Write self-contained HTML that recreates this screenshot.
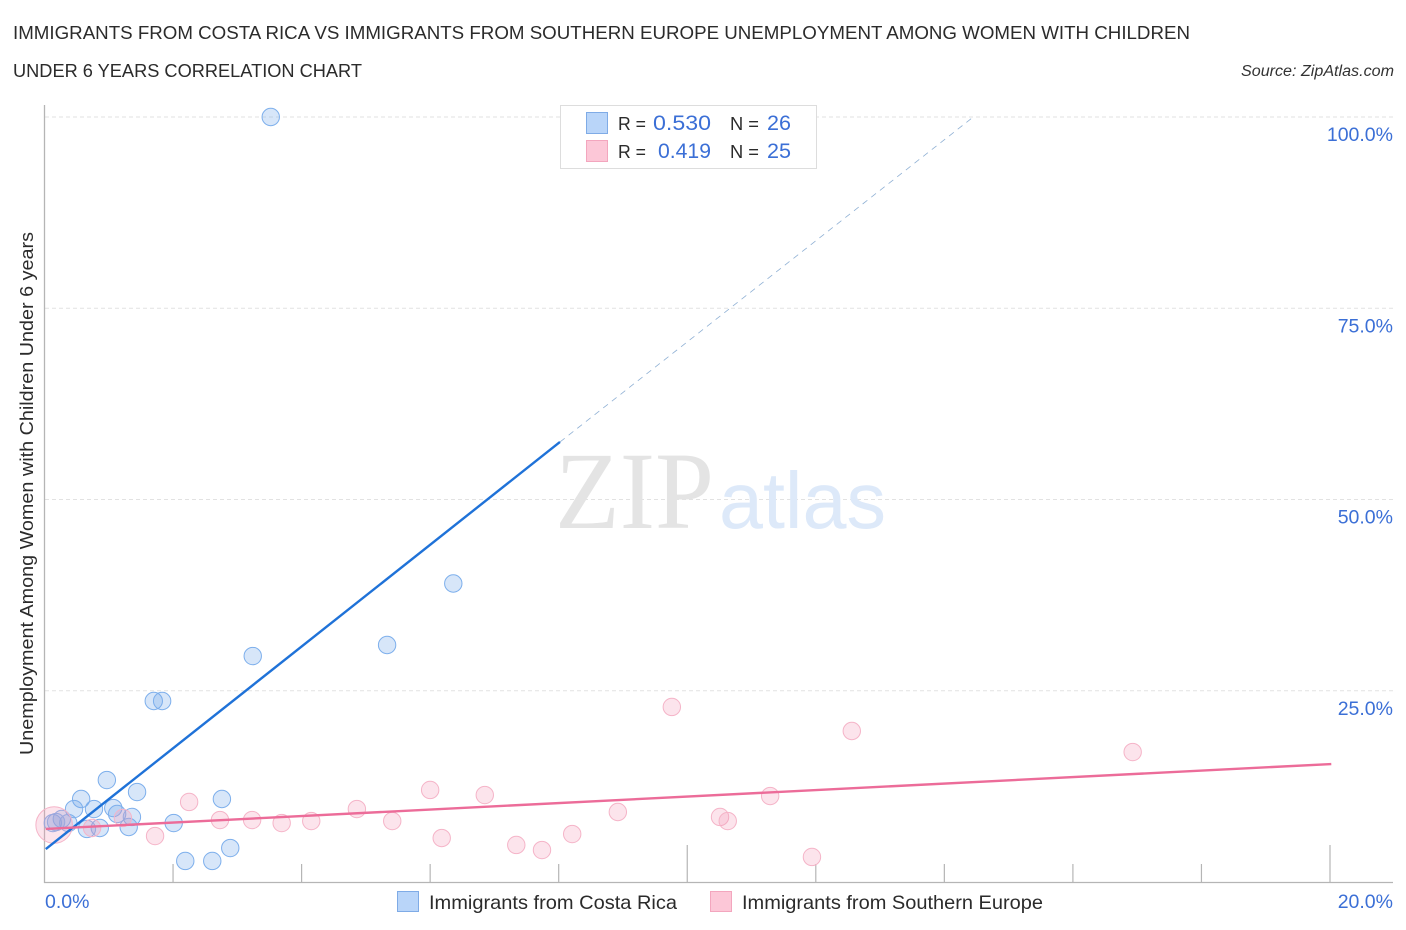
<!DOCTYPE html>
<html lang="en">
<head>
<meta charset="utf-8">
<title>Unemployment correlation chart</title>
<style>
html,body{margin:0;padding:0;background:#fff;}
body{width:1406px;height:930px;overflow:hidden;}
svg{display:block;}
text{font-family:"Liberation Sans",sans-serif;}
</style>
</head>
<body>
<svg id="chart" xmlns="http://www.w3.org/2000/svg" width="1406" height="930" viewBox="0 0 1406 930">
  <rect x="0" y="0" width="1406" height="930" fill="#ffffff"/>
  <text x="13" y="39" font-size="18.5" fill="#2b2b2b" textLength="1177" lengthAdjust="spacingAndGlyphs">IMMIGRANTS FROM COSTA RICA VS IMMIGRANTS FROM SOUTHERN EUROPE UNEMPLOYMENT AMONG WOMEN WITH CHILDREN</text>
  <text x="13" y="77" font-size="18.5" fill="#2b2b2b" textLength="349" lengthAdjust="spacingAndGlyphs">UNDER 6 YEARS CORRELATION CHART</text>
  <text x="1241" y="76" font-size="15.5" font-style="italic" fill="#333333" textLength="153" lengthAdjust="spacingAndGlyphs">Source: ZipAtlas.com</text>
  <text transform="translate(33,755) rotate(-90)" font-size="18.5" fill="#2b2b2b" textLength="523" lengthAdjust="spacingAndGlyphs">Unemployment Among Women with Children Under 6 years</text>

  <g id="grid"></g>

  <g>
    <text x="555" y="528" font-size="110" fill="#e4e4e4" style="font-family:'Liberation Serif',serif" textLength="159" lengthAdjust="spacingAndGlyphs">ZIP</text>
    <text x="719" y="528" font-size="80" fill="#dde9f9" textLength="167" lengthAdjust="spacingAndGlyphs">atlas</text>
  </g>

  <g id="axes"></g>
  <g id="dots-blue"></g>
  <g id="dots-pink"></g>
  <g id="trends"></g>
  <g id="labels"></g>

  <g>
    <rect x="560.5" y="105.5" width="256" height="63" fill="#ffffff" stroke="#dddddd" stroke-width="1"/>
    <rect x="586.5" y="112.5" width="21" height="21" fill="#b9d5f9" stroke="#7fabe6"/>
    <rect x="586.5" y="140.5" width="21" height="21" fill="#fcc7d7" stroke="#f3a6be"/>
    <text x="618" y="130" font-size="18.5" fill="#2b2b2b" textLength="28" lengthAdjust="spacingAndGlyphs">R =</text>
    <text x="653" y="130" font-size="21" fill="#3b6fd6" textLength="58" lengthAdjust="spacingAndGlyphs">0.530</text>
    <text x="730" y="130" font-size="18.5" fill="#2b2b2b" textLength="29" lengthAdjust="spacingAndGlyphs">N =</text>
    <text x="767" y="130" font-size="21" fill="#3b6fd6" textLength="24" lengthAdjust="spacingAndGlyphs">26</text>
    <text x="618" y="158" font-size="18.5" fill="#2b2b2b" textLength="28" lengthAdjust="spacingAndGlyphs">R =</text>
    <text x="658" y="158" font-size="21" fill="#3b6fd6" textLength="53" lengthAdjust="spacingAndGlyphs">0.419</text>
    <text x="730" y="158" font-size="18.5" fill="#2b2b2b" textLength="29" lengthAdjust="spacingAndGlyphs">N =</text>
    <text x="767" y="158" font-size="21" fill="#3b6fd6" textLength="24" lengthAdjust="spacingAndGlyphs">25</text>
  </g>

  <g>
    <rect x="397.5" y="891.5" width="21" height="20" fill="#b9d5f9" stroke="#7fabe6"/>
    <text x="429" y="909" font-size="19.5" fill="#2b2b2b" textLength="248" lengthAdjust="spacingAndGlyphs">Immigrants from Costa Rica</text>
    <rect x="710.5" y="891.5" width="21" height="20" fill="#fcc7d7" stroke="#f3a6be"/>
    <text x="742" y="909" font-size="19.5" fill="#2b2b2b" textLength="301" lengthAdjust="spacingAndGlyphs">Immigrants from Southern Europe</text>
  </g>
</svg>

<script>
const yTickValues = [25, 50, 75, 100];
const yTickLabels = ["25.0%", "50.0%", "75.0%", "100.0%"];
const xTickValues = [2, 4, 6, 8, 10, 12, 14, 16, 18, 20];
const xMajorTicks = [10, 20];
const xEndLabels = ["0.0%", "20.0%"];
const xEndValues = [0, 20];

const costaRicaX = [3.52, 6.36, 5.33, 3.24, 1.70, 1.83, 0.97, 1.44, 2.76, 0.57, 0.46, 0.77, 1.07, 1.13, 1.36, 0.27, 0.37, 0.13, 0.18, 2.01, 1.31, 0.86, 0.66, 2.89, 2.19, 2.61];
const costaRicaY = [100.0, 39.02, 30.98, 29.54, 23.66, 23.66, 13.33, 11.76, 10.85, 10.85, 9.54, 9.54, 9.67, 8.89, 8.50, 8.24, 7.71, 7.71, 7.84, 7.71, 7.19, 7.06, 6.93, 4.44, 2.75, 2.75];

const southernEuropeX = [9.76, 12.56, 16.93, 6.00, 6.85, 2.25, 11.29, 4.86, 8.92, 10.51, 10.63, 2.73, 3.23, 3.69, 4.15, 5.41, 6.18, 1.72, 8.21, 7.34, 7.74, 11.94, 0.74, 1.22, 0.15];
const southernEuropeY = [22.88, 19.74, 16.99, 12.03, 11.37, 10.46, 11.24, 9.54, 9.15, 8.50, 7.97, 8.10, 8.10, 7.71, 7.97, 7.97, 5.75, 6.01, 6.27, 4.84, 4.18, 3.27, 7.06, 8.37, 7.45];
const southernEuropeWeight = [1, 1, 1, 1, 1, 1, 1, 1, 1, 1, 1, 1, 1, 1, 1, 1, 1, 1, 1, 1, 1, 1, 1, 1, 2.1];

const costaRicaTrendX = [0.02, 8.02];
const costaRicaTrendY = [4.31, 57.52];
const costaRicaForecastX = [8.02, 14.45];
const costaRicaForecastY = [57.52, 100];
const southernEuropeTrendX = [0.02, 20.02];
const southernEuropeTrendY = [6.93, 15.42];

const NS = "http://www.w3.org/2000/svg";
function xScale(v) { return 44.5 + v * 64.275; }
function yScale(v) { return 882 - v * 7.65; }
function make(tag, attrs, parent) {
  const el = document.createElementNS(NS, tag);
  for (const k in attrs) el.setAttribute(k, attrs[k]);
  parent.appendChild(el);
  return el;
}

const grid = document.getElementById("grid");
yTickValues.forEach(function (v) {
  const el = make("line", { x1: 45, x2: 1393, y1: yScale(v), y2: yScale(v), stroke: "#e2e2e2", "stroke-width": 1, "stroke-dasharray": "4 3" }, grid);
  
  
});

const axes = document.getElementById("axes");
const yAxis = make("line", { x1: 44.5, x2: 44.5, y1: 105, y2: 883, stroke: "#b5b5b5", "stroke-width": 1.3 }, axes);


const xAxis = make("line", { x1: 44, x2: 1393, y1: 882.5, y2: 882.5, stroke: "#b5b5b5", "stroke-width": 1.3 }, axes);


xTickValues.forEach(function (v) {
  const top = xMajorTicks.indexOf(v) >= 0 ? 845 : 864;
  const el = make("line", { x1: xScale(v), x2: xScale(v), y1: top, y2: 882, stroke: "#b5b5b5", "stroke-width": 1.2 }, axes);
  
  
});

const dotsBlue = document.getElementById("dots-blue");
costaRicaX.forEach(function (v, i) {
  const el = make("circle", { cx: xScale(v), cy: yScale(costaRicaY[i]), r: 8.7, fill: "rgba(110,165,235,0.28)", stroke: "#7dafec", "stroke-width": 1 }, dotsBlue);
  
  
});

const dotsPink = document.getElementById("dots-pink");
southernEuropeX.forEach(function (v, i) {
  const el = make("circle", { cx: xScale(v), cy: yScale(southernEuropeY[i]), r: 8.7 * southernEuropeWeight[i], fill: "rgba(245,150,180,0.26)", stroke: "#f5b4c8", "stroke-width": 1 }, dotsPink);
  
  
});

const trends = document.getElementById("trends");
const blueLine = make("line", { x1: xScale(costaRicaTrendX[0]), y1: yScale(costaRicaTrendY[0]), x2: xScale(costaRicaTrendX[1]), y2: yScale(costaRicaTrendY[1]), stroke: "#1f72d8", "stroke-width": 2.4 }, trends);


const blueDash = make("line", { x1: xScale(costaRicaForecastX[0]), y1: yScale(costaRicaForecastY[0]), x2: xScale(costaRicaForecastX[1]), y2: yScale(costaRicaForecastY[1]), stroke: "#8fb0d4", "stroke-width": 0.8, "stroke-dasharray": "6 5" }, trends);


const pinkLine = make("line", { x1: xScale(southernEuropeTrendX[0]), y1: yScale(southernEuropeTrendY[0]), x2: xScale(southernEuropeTrendX[1]), y2: yScale(southernEuropeTrendY[1]), stroke: "#ec6c99", "stroke-width": 2.4 }, trends);



const labels = document.getElementById("labels");
yTickValues.forEach(function (v, i) {
  const el = make("text", { x: 1393, y: yScale(v) + 24, "text-anchor": "end", "font-size": 19.5, fill: "#3b6fd6" }, labels);
  
  
  el.textContent = yTickLabels[i];
});
xEndValues.forEach(function (v, i) {
  const el = make("text", { x: i === 0 ? 45 : 1393, y: 908, "text-anchor": i === 0 ? "start" : "end", "font-size": 19.5, fill: "#3b6fd6" }, labels);
  
  
  el.textContent = xEndLabels[i];
});
</script>
</body>
</html>
